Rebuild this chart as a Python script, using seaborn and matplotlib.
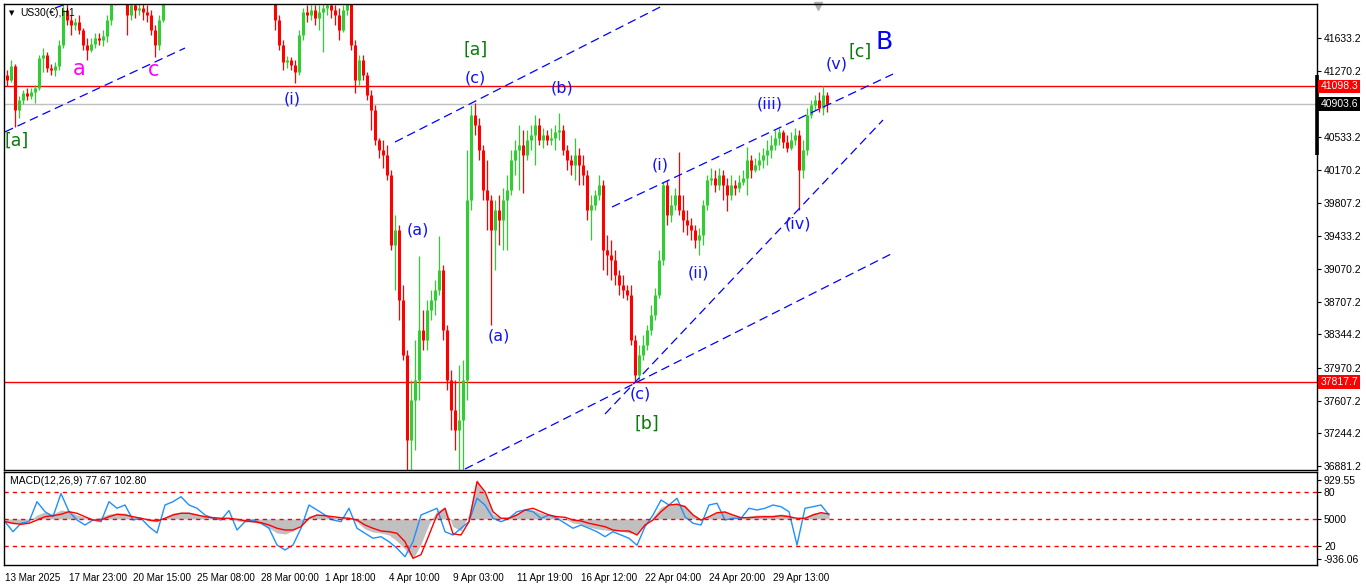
import numpy as np
import pandas as pd
import matplotlib
matplotlib.use("Agg")
import matplotlib.pyplot as plt
import matplotlib.transforms as mtransforms
import seaborn as sns

sns.set_style("white")
plt.rcParams["font.family"] = ["Liberation Sans", "DejaVu Sans"]

# ---- price data: 4-hour bars (open = previous close)
first_open = 41226
bar_close = [
    41170, 41326, 40837, 40948, 41026, 40992, 41037, 41081, 41415, 41448,
    41304, 41281, 41326, 41559, 41948, 41837, 41781, 41815, 41726, 41559,
    41503, 41570, 41637, 41615, 41659, 41837, 42059, 42226, 42170, 42115,
    41892, 42003, 41948, 41970, 41926, 41892, 41726, 41559, 41837, 42059,
    42281, 42392, 42337, 42448, 42503, 42392, 42281, 42337, 42448, 42559,
    42503, 42392, 42337, 42281, 42392, 42448, 42370, 42303, 42226, 42281,
    42337, 42259, 42192, 42148, 42226, 42170, 42115,
    41837, 41559, 41370, 41392, 41337, 41259, 41670, 41926, 41892, 41948,
    41859, 41926, 41970, 42003, 41948, 41892, 41726, 41948, 42059, 41559,
    41170, 41392, 41226, 41004, 40837, 40504, 40393, 40337, 40115, 39337,
    39504, 38726, 38115, 37171, 37615, 37837, 38393, 38282, 38615, 38726,
    38837, 39059, 38393, 37837, 37504, 37282, 37393, 37837, 39837, 40781,
    40670, 40393, 39948, 39837, 39504, 39726, 39615, 39837, 39948, 40281,
    40393, 40448, 40337, 40504, 40559, 40670, 40504, 40559, 40504, 40526,
    40592, 40615, 40393, 40281, 40226, 40337, 40226, 40115, 39726, 39781,
    39893, 40004, 39282, 39226, 39170, 39004, 38893, 38837, 38782, 38282,
    37893, 38115, 38226, 38393, 38559, 38782, 39170, 40004, 39670, 39781,
    39893, 39726, 39615, 39559, 39504, 39393, 39448, 39781, 40059, 40081,
    40004, 40115, 40004, 39893, 40004, 39970, 40037, 40081, 40281, 40170,
    40226, 40281, 40337, 40393, 40448, 40526, 40592, 40481, 40415, 40504,
    40559, 40170, 40393, 40781, 40893, 40948, 40859, 41004, 40903.6,
]
bar_high = [
    41281, 41392, 41348, 40992, 41059, 41081, 41081, 41115, 41448, 41526,
    41481, 41348, 41370, 41615, 42037, 42059, 41892, 41859, 41892, 41748,
    41637, 41637, 41692, 41692, 41726, 41892, 42170, 42337, 42337, 42281,
    42170, 42115, 42059, 42037, 42026, 42003, 41948, 41781, 41892, 42170,
    42350, 42450, 42460, 42510, 42580, 42530, 42420, 42390, 42500, 42620,
    42600, 42540, 42430, 42370, 42440, 42500, 42480, 42400, 42330, 42340,
    42390, 42370, 42290, 42230, 42270, 42260, 42210,
    42148, 41892, 41615, 41437, 41426, 41392, 41726, 41970, 42003, 42003,
    42003, 42003, 42037, 42115, 42115, 42003, 41970, 42003, 42170, 42115,
    41615, 41448, 41448, 41259, 41059, 40893, 40526, 40504, 40448, 40170,
    39670, 39559, 38893, 38171, 37837, 38282, 39215, 38615, 38726, 38837,
    38948, 39437, 39115, 38448, 37948, 37837, 38004, 38060, 40393, 40893,
    40915, 40748, 40448, 40281, 39893, 39837, 39893, 39970, 40115, 40393,
    40504, 40670, 40615, 40615, 40670, 40781, 40748, 40637, 40615, 40637,
    40670, 40804, 40670, 40448, 40337, 40526, 40415, 40337, 40170, 39893,
    39948, 40115, 40059, 39448, 39393, 39282, 39059, 39004, 38893, 38893,
    38337, 38226, 38337, 38448, 38671, 38859, 39282, 40037, 40059, 39893,
    39970, 40370, 39893, 39726, 39637, 39559, 39526, 39837, 40115, 40193,
    40170, 40193, 40170, 40081, 40115, 40059, 40115, 40170, 40426, 40337,
    40304, 40370, 40415, 40504, 40559, 40615, 40637, 40615, 40559, 40592,
    40637, 40615, 40504, 40859, 40948, 41004, 41037, 41098.3, 41037,
]
bar_low = [
    41103, 41148, 40648, 40748, 40904, 40948, 40959, 40915, 41059, 41259,
    41259, 41226, 41215, 41281, 41526, 41781, 41670, 41726, 41681, 41503,
    41392, 41481, 41526, 41559, 41548, 41592, 41781, 42003, 42059, 42037,
    41670, 41837, 41859, 41892, 41837, 41815, 41670, 41426, 41503, 41815,
    42040, 42230, 42290, 42300, 42400, 42340, 42220, 42240, 42300, 42410,
    42450, 42350, 42280, 42220, 42250, 42360, 42320, 42250, 42170, 42190,
    42240, 42200, 42120, 42080, 42100, 42110, 42060,
    41726, 41503, 41281, 41304, 41281, 41137, 41226, 41615, 41815, 41837,
    41781, 41726, 41481, 41892, 41859, 41781, 41615, 41703, 41892, 41503,
    41026, 41115, 41170, 40948, 40615, 40448, 40304, 40193, 40059, 39282,
    38837, 38504, 38060, 36838, 36615, 37060, 37615, 38171, 38171, 38504,
    38559, 38782, 38282, 37726, 37282, 37060, 36726, 36838, 37615, 39726,
    40559, 40281, 39837, 39504, 38448, 39059, 39337, 39282, 39282, 39893,
    40115, 39948, 39915, 40281, 40393, 40226, 40448, 40415, 40448, 40448,
    40393, 40504, 40337, 40170, 40115, 40059, 40004, 40004, 39615, 39393,
    39726, 39837, 39059, 39004, 38948, 38893, 38782, 38748, 38726, 38226,
    37815, 37837, 38060, 38171, 38337, 38504, 38748, 39115, 39559, 39593,
    39726, 39670, 39481, 39448, 39393, 39304, 39226, 39337, 39726, 40004,
    39926, 39948, 39837, 39715, 39837, 39893, 39926, 40004, 39893, 40081,
    40148, 40170, 40193, 40226, 40304, 40393, 40448, 40415, 40370, 40393,
    40448, 39726, 40081, 40337, 40748, 40837, 40815, 40781, 40815,
]

# ---- MACD panel, sampled every 8 hours
macd_main = [
    -64, -300, -101, -64, 408, 172, 54, 600, 172, -24,
    -142, -24, -64, 408, 253, 330, -24, 17, -182, -330,
    330, 408, 526, 330, 253, 94, 17, -24, 200, -260,
    -64, -24, -101, -219, -614, -732, -614, -219, 330, 212,
    94, -24, -64, 253, -219, -337, -455, -418, -536, -691,
    -890, -536, 94, 172, 253, -300, -378, -219, -64, 489,
    330, 17, -64, 17, 172, 212, 172, 17, 94, 17,
    -101, -219, -142, -219, -300, -418, -300, -378, -455, -620,
    -182, 94, 448, 330, 489, 54, -101, -142, 330, 371,
    -24, 17, 17, 253, 212, 253, 330, 290, 172, -614,
    253, 290, 330, 94,
]
macd_signal = [
    -64, -101, -125, -101, -24, 54, 78, 111, 172, 135,
    54, -24, -24, 54, 111, 94, 54, 17, -24, -47,
    17, 94, 135, 135, 94, 54, 31, 17, 17, -7,
    -40, -64, -87, -142, -219, -260, -260, -182, 17, 94,
    78, 54, 31, 17, -24, -142, -219, -283, -300, -337,
    -536, -927, -842, -378, 94, 253, -350, -378, -64, 880,
    644, 172, 17, 17, 94, 212, 253, 172, 94, 54,
    40, -24, -47, -101, -142, -182, -260, -283, -283, -378,
    -142, -24, 172, 330, 347, 290, 94, -24, 54, 149,
    165, 94, 31, 31, 47, 54, 54, 78, 54, 17,
    17, 94, 149, 118,
]
macd_hist = [
    -71, -118, -94, -47, 94, 165, 118, 212, 189, 94,
    47, 0, 47, 118, 142, 142, 71, 24, -47, -71,
    47, 142, 165, 165, 118, 71, 47, 24, 0, -47,
    -71, -71, -118, -212, -330, -354, -283, -142, 71, 118,
    94, 47, 24, 47, -71, -236, -307, -330, -378, -519,
    -708, -944, -590, -118, 189, 283, -177, -283, 118, 944,
    590, 118, 24, 47, 142, 236, 212, 142, 94, 47,
    0, -94, -118, -189, -236, -260, -283, -283, -330, -354,
    -142, 47, 283, 354, 378, 330, 118, -47, 71, 165,
    189, 94, 47, 71, 94, 94, 94, 118, 94, 0,
    47, 142, 165, 118,
]

date_labels = ["13 Mar 2025", "17 Mar 23:00", "20 Mar 15:00", "25 Mar 08:00",
               "28 Mar 00:00", "1 Apr 18:00", "4 Apr 10:00", "9 Apr 03:00",
               "11 Apr 19:00", "16 Apr 12:00", "22 Apr 04:00", "24 Apr 20:00",
               "29 Apr 13:00"]
price_ticks = [41633.2, 41270.2, 40533.2, 40170.2, 39807.2, 39433.2, 39070.2,
               38707.2, 38344.2, 37970.2, 37607.2, 37244.2, 36881.2]

# wave labels: (text, hour, price, colour, size)
wave_labels = [
    ("[a]", 12, 40492, "#0a7a0a", 12.5), ("a", 74, 41290, "#ff00ff", 15),
    ("c", 149, 41280, "#ff00ff", 15), ("(i)", 287, 40959, "#1010ff", 11.5),
    ("(a)", 413, 39504, "#1010ff", 11.5), ("(a)", 494, 38326, "#1010ff", 11.5),
    ("[a]", 471, 41503, "#0a7a0a", 12.5), ("(c)", 470, 41192, "#1010ff", 11.5),
    ("(b)", 557, 41081, "#1010ff", 11.5), ("(c)", 635, 37682, "#1010ff", 11.5),
    ("[b]", 642, 37348, "#0a7a0a", 12.5), ("(i)", 655, 40226, "#1010ff", 11.5),
    ("(ii)", 693, 39026, "#1010ff", 11.5), ("(iii)", 765, 40904, "#1010ff", 11.5),
    ("(iv)", 793, 39570, "#1010ff", 11.5), ("(v)", 832, 41348, "#1010ff", 11.5),
    ("[c]", 855, 41481, "#0a7a0a", 12.5), ("B", 879, 41592, "#0000ff", 18),
]
# dashed trend lines: (hour0, price0, hour1, price1)
trend_lines = [
    (0, 40594, 180, 41526), (50, 41970, 61, 42015),
    (390, 40481, 657, 41992), (460, 36848, 888, 39248),
    (607, 39759, 888, 41237), (600, 37459, 878, 40726),
]

GREEN = "#32cd32"
RED = "#ff0000"

closes = np.array(bar_close, dtype=float)
opens = np.concatenate([[first_open], closes[:-1]])
df = pd.DataFrame({
    "hour": np.arange(len(closes)) * 4 + 2,
    "open": opens, "close": closes,
    "high": np.array(bar_high, dtype=float), "low": np.array(bar_low, dtype=float),
})
macd = pd.DataFrame({
    "hour": np.arange(len(macd_main)) * 8,
    "main": macd_main, "signal": macd_signal, "hist": macd_hist,
})

W, H = 1366, 588
fig = plt.figure(figsize=(W / 100, H / 100), dpi=100)
fig.patch.set_facecolor("white")
ax = fig.add_axes([4 / W, 1 - 470 / H, 1313 / W, 466 / H])
ax2 = fig.add_axes([4 / W, 1 - 565 / H, 1313 / W, 93 / H], sharex=ax)

# candles
for up, col in [(True, GREEN), (False, RED)]:
    d = df[(df["close"] >= df["open"]) == up]
    ax.vlines(d["hour"], d["low"], d["high"], color=col, lw=0.9)
    ax.vlines(d["hour"], d["open"], d["close"], color=col, lw=2.2)

ax.axhline(41098.3, color=RED, lw=1.0, zorder=1)
ax.axhline(37817.7, color=RED, lw=1.0, zorder=1)
ax.axhline(bar_close[-1], color="#c0c0c0", lw=1.0, zorder=1)

for h0, p0, h1, p1 in trend_lines:
    ax.plot([h0, h1], [p0, p1], color="#0000ff", lw=0.9, ls=(0, (7, 4)))

for txt, hx, py, col, size in wave_labels:
    ax.text(hx, py, txt, color=col, fontsize=size, ha="center", va="center",
            family=["DejaVu Sans"])

ax.set_xlim(-1, 1312)
ax.set_ylim(36837, 42015)
ax.yaxis.tick_right()
ax.set_yticks(price_ticks)
ax.set_yticklabels([f"{v:.1f}" for v in price_ticks])
ax.tick_params(axis="y", length=3, width=0.8, pad=2, labelsize=7.5, colors="black", direction="out")
ax.tick_params(axis="x", bottom=False, labelbottom=False)

trans = mtransforms.blended_transform_factory(ax.transAxes, ax.transData)
for val, fc in [(41098.3, RED), (bar_close[-1], "black"), (37817.7, RED)]:
    ax.text(1.0025, val, f"{val:.1f}", transform=trans, color="white", fontsize=7.5,
            va="center", ha="left",
            bbox=dict(boxstyle="square,pad=0.18", fc=fc, ec="none"))
ax.plot([1.0, 1.0], [40337, 41226], transform=trans, color="black", lw=2.6,
        clip_on=False, solid_capstyle="butt")
ax.plot([813], [41990], marker="v", color="#b0b0b0", ms=6, clip_on=False)

# MACD panel
ax2.fill_between(macd["hour"], 0, macd["hist"], color="#c0c0c0", lw=0)
sns.lineplot(data=macd, x="hour", y="main", ax=ax2, color="#1e90ff", lw=1.0)
sns.lineplot(data=macd, x="hour", y="signal", ax=ax2, color=RED, lw=1.0)
for lv in (637, 0, -637):
    ax2.axhline(lv, color=RED, lw=1.0, ls=(0, (3, 3)))
ax2.set_ylim(-1086, 1109)
ax2.set_xlabel("")
ax2.set_ylabel("")
ax2.yaxis.tick_right()
ax2.set_yticks([929.55, 637, 0, -637, -936.06])
ax2.set_yticklabels(["929.55", "80", "5000", "20", "-936.06"])
ax2.tick_params(axis="y", length=3, width=0.8, pad=2, labelsize=7.5, colors="black", direction="out")
ax2.set_xticks(np.arange(len(date_labels)) * 64)
ax2.set_xticklabels(date_labels, ha="left")
ax2.tick_params(axis="x", length=4, width=0.8, pad=2, labelsize=7.1, colors="black", direction="out")
for lbl in ax2.get_xticklabels():
    lbl.set_horizontalalignment("left")

for a in (ax, ax2):
    a.set_facecolor("white")
    a.grid(False)
    for s in a.spines.values():
        s.set_visible(True)
        s.set_color("black")
        s.set_linewidth(1.0)

fig.text(9 / W, 1 - 13 / H, "\u25bc", fontsize=5, color="black", va="center",
         family=["DejaVu Sans"])
fig.text(20 / W, 1 - 13 / H, "US30(\u20ac),H1", fontsize=7.5, color="black", va="center")
fig.text(10 / W, 1 - 481 / H, "MACD(12,26,9) 77.67 102.80", fontsize=7.5,
         color="black", va="center")

fig.savefig("out.png", dpi=100)
